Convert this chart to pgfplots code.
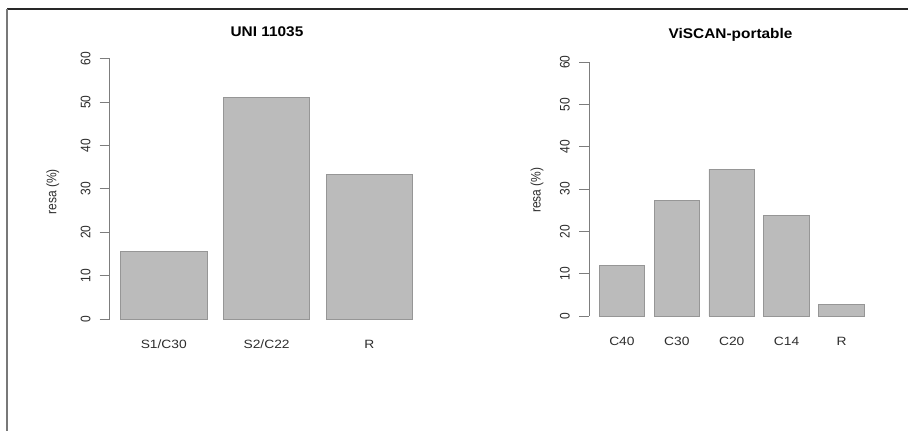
\documentclass[border=0pt]{standalone}
\usepackage{fontspec}
\setmainfont{Liberation Sans}
\usepackage{pgfplots}
\pgfplotsset{compat=1.18}
\definecolor{barfill}{RGB}{187,187,187}
\definecolor{baredge}{RGB}{150,150,150}
\definecolor{axisgray}{RGB}{125,125,125}
\definecolor{txt}{RGB}{45,45,45}
\pgfplotsset{
  rbar/.style={
    scale only axis,
    anchor=south west,
    axis y line=left,
    axis x line=bottom,
    x axis line style={draw=none},
    y axis line style={-, draw=axisgray, line width=0.6pt},
    ymin=0, ymax=60,
    ytick={0,10,...,60},
    tick align=outside,
    major tick length=7.5pt,
    ytick style={draw=axisgray, line width=0.6pt},
    xtick style={draw=none},
    /pgf/number format/assume math mode=true,
    yticklabel style={font=\fontsize{9}{10}\selectfont, text=txt, rotate=90, yscale=1.15, anchor=south, inner sep=0pt},
    yticklabel shift=6.75pt,
    xticklabel style={font=\fontsize{9}{10}\selectfont, text=txt, xscale=1.15, anchor=center},
    xticklabel shift=11.25pt,
    ylabel={resa (\%)},
    clip=false,
    ybar,
  }
}
\begin{document}
\begin{tikzpicture}
\path[use as bounding box] (0pt,0pt) rectangle (681pt,323.25pt);
\draw[draw={rgb,255:red,40;green,40;blue,40}, line width=0.9pt] (5.25pt,316.5pt) -- (681pt,316.5pt);
\draw[draw={rgb,255:red,120;green,120;blue,120}, line width=1.1pt] (5.25pt,316.5pt) -- (5.25pt,0pt);

\begin{axis}[rbar,
  at={(82.275pt,84pt)},
  width=235.4pt, height=195.2pt,
  xmin=-0.526, xmax=2.526,
  bar width=64.7pt,
  xtick={0,1,2},
  xticklabels={S1/C30,S2/C22,R},
  title={UNI 11035},
  title style={font=\bfseries\fontsize{10.5}{12}\selectfont, xscale=1.1, at={(axis description cs:0.501,1.072)}, anchor=center},
  every axis y label/.style={at={(axis description cs:-0.181,0.488)}, anchor=center, rotate=90, yscale=1.15, font=\fontsize{9}{10}\selectfont, text=txt},
]
\addplot[fill=barfill, draw=baredge, line width=0.6pt] coordinates {(0,15.5) (1,51) (2,33.3)};
\end{axis}

\begin{axis}[rbar,
  at={(441.75pt,86.25pt)},
  width=214.1pt, height=190.5pt,
  xmin=-0.6, xmax=4.6,
  bar width=34.2pt,
  xtick={0,1,2,3,4},
  xticklabels={C40,C30,C20,C14,R},
  title={ViSCAN-portable},
  title style={font=\bfseries\fontsize{10.5}{12}\selectfont, xscale=1.1, at={(axis description cs:0.496,1.075)}, anchor=center},
  every axis y label/.style={at={(axis description cs:-0.182,0.496)}, anchor=center, rotate=90, yscale=1.15, font=\fontsize{9}{10}\selectfont, text=txt},
]
\addplot[fill=barfill, draw=baredge, line width=0.6pt] coordinates {(0,12) (1,27.3) (2,34.7) (3,23.7) (4,2.8)};
\end{axis}
\end{tikzpicture}
\end{document}
